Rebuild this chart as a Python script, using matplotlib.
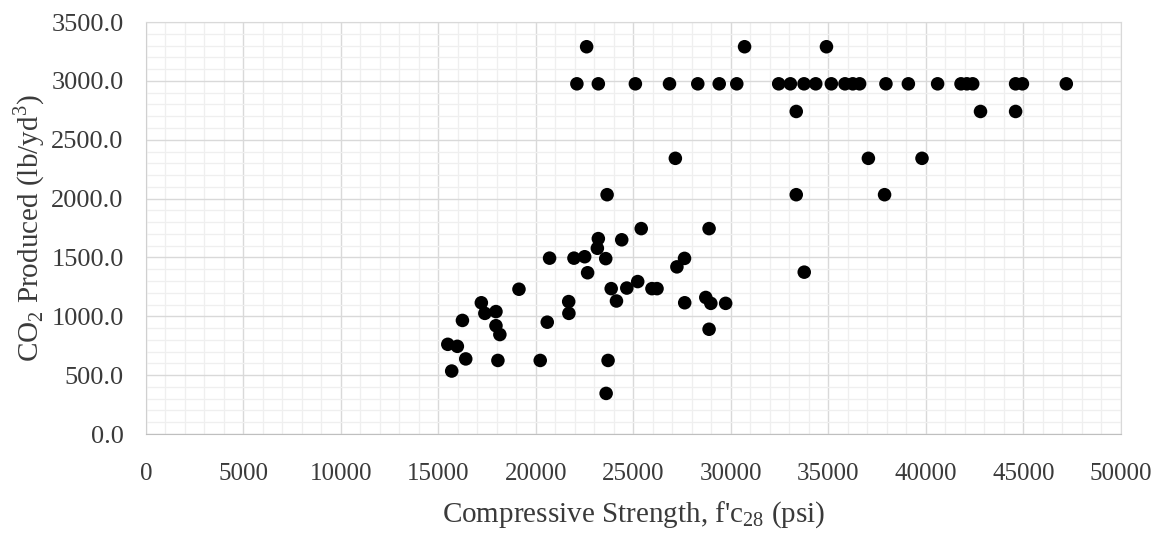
import numpy as np
import matplotlib
matplotlib.use('Agg')
import matplotlib.pyplot as plt
from matplotlib.ticker import MultipleLocator, FormatStrFormatter

plt.rcParams['font.family'] = ['Liberation Serif', 'DejaVu Serif']
plt.rcParams['mathtext.fontset'] = 'custom'
plt.rcParams['mathtext.rm'] = 'Liberation Serif'

# compressive strength (psi) and CO2 produced (lb/yd3)
strength_top = [22600, 30700, 34900]
co2_top = [3290, 3290, 3290]

strength_3000 = [22100, 23200, 25100, 26850, 28300, 29400, 30300, 32450, 33050,
                 33750, 34350, 35150, 35850, 36250, 36600, 37950, 39100, 40600,
                 41800, 42100, 42400, 44600, 44950, 47200]
co2_3000 = [2975] * len(strength_3000)

strength_mid = [33350, 42800, 44600, 27150, 37050, 39800, 23650, 33350, 37880]
co2_mid = [2740, 2740, 2740, 2342, 2342, 2342, 2033, 2033, 2033]

strength_low = [25400, 28880, 23200, 24400, 23150, 20700, 21950, 22500, 23580,
                22650, 27620, 27230, 33760, 19130, 23860, 24660, 25220, 25950,
                26210, 24130, 27630, 28710, 28970, 29730, 28880, 17200, 17380,
                17950, 17950, 18150, 16230, 21680, 21690, 20580, 15480, 15970,
                16400, 15680, 18050, 20220, 23700, 23600]
co2_low = [1745, 1745, 1660, 1650, 1578, 1494, 1494, 1506, 1490,
           1370, 1492, 1420, 1375, 1230, 1235, 1240, 1295, 1235,
           1235, 1130, 1115, 1160, 1110, 1110, 890, 1115, 1025,
           1040, 920, 845, 965, 1125, 1025, 950, 762, 745,
           638, 535, 625, 625, 625, 345]

x = np.array(strength_top + strength_3000 + strength_mid + strength_low)
y = np.array(co2_top + co2_3000 + co2_mid + co2_low)

f = plt.figure(figsize=(11.52, 5.33), dpi=100)
ax = f.add_axes([0.1267, 0.1857, 0.8463, 0.773])
ax.scatter(x, y, s=95, c='black', edgecolors='none', zorder=3)

ax.set_xlim(0, 50000)
ax.set_ylim(0, 3500)
ax.xaxis.set_major_locator(MultipleLocator(5000))
ax.xaxis.set_minor_locator(MultipleLocator(1000))
ax.yaxis.set_major_locator(MultipleLocator(500))
ax.yaxis.set_minor_locator(MultipleLocator(100))
ax.yaxis.set_major_formatter(FormatStrFormatter('%.1f'))
ax.xaxis.set_major_formatter(FormatStrFormatter('%d'))

ax.grid(which='major', color='#d9d9d9', linewidth=1.0, zorder=0)
ax.grid(which='minor', color='#efefef', linewidth=0.9, zorder=0)
ax.set_axisbelow(True)
for s in ax.spines.values():
    s.set_color('#d9d9d9')
ax.spines['bottom'].set_color('#bfbfbf')
ax.spines['left'].set_color('#d0d0d0')

ax.tick_params(which='both', length=0)
ax.tick_params(axis='y', labelsize=19, pad=16, colors='#3a3a3a')
ax.tick_params(axis='x', labelsize=18, pad=21, colors='#3a3a3a')

ax.set_xlabel("Compressive Strength, f'c$_{\\mathregular{28}}$ (psi)", fontsize=21,
              color='#3a3a3a', labelpad=10)
ax.set_ylabel('CO$_\\mathregular{2}$ Produced (lb/yd$^\\mathregular{3}$)', fontsize=21,
              color='#3a3a3a', labelpad=3)

f.savefig('out.png', dpi=100)
